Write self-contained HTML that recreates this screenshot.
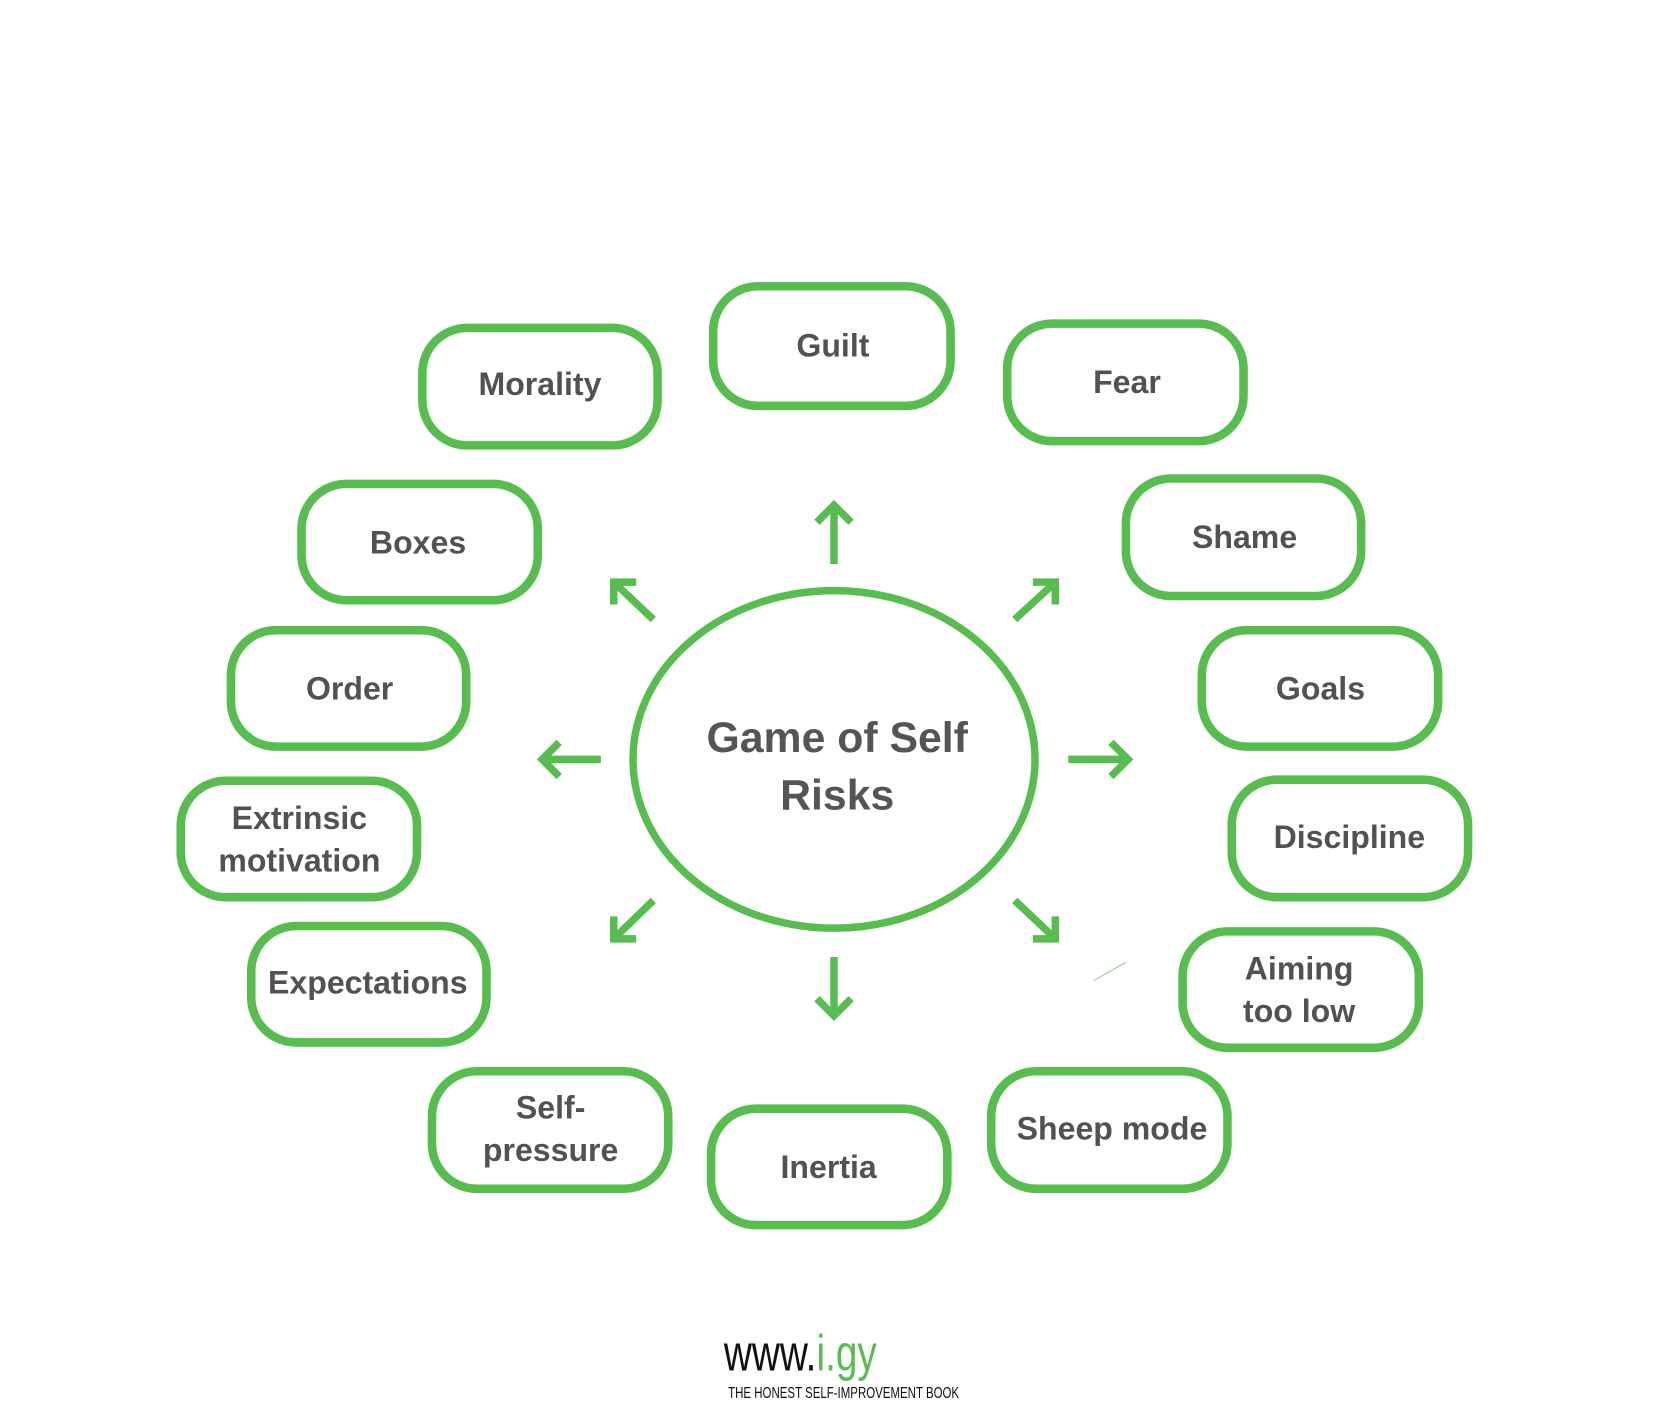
<!DOCTYPE html>
<html><head><meta charset="utf-8"><style>
html,body{margin:0;padding:0;background:#fff;width:1668px;height:1412px;overflow:hidden;}
svg{display:block;}
.b{fill:none;stroke:#58bd4f;stroke-width:8;}
.t{font-family:"Liberation Sans",sans-serif;font-weight:bold;font-size:30px;fill:#525252;text-anchor:middle;}
.a{fill:none;stroke:#58bd4f;stroke-width:7;}
</style></head><body>
<svg width="1668" height="1412" viewBox="3 2 1560 1322" preserveAspectRatio="none" xmlns="http://www.w3.org/2000/svg">
<rect x="3" y="2" width="1560" height="1322" fill="#fff"/>
<rect class="b" x="398" y="309" width="220" height="110" rx="42"/>
<text class="t" x="508" y="372">Morality</text>
<rect class="b" x="670" y="270" width="222" height="112" rx="42"/>
<text class="t" x="782" y="336">Guilt</text>
<rect class="b" x="945" y="305" width="221" height="110" rx="42"/>
<text class="t" x="1057" y="370">Fear</text>
<rect class="b" x="1056" y="450" width="220" height="110" rx="42"/>
<text class="t" x="1167" y="515">Shame</text>
<rect class="b" x="285" y="455" width="221" height="109" rx="42"/>
<text class="t" x="394" y="520">Boxes</text>
<rect class="b" x="1127" y="592" width="221" height="109" rx="42"/>
<text class="t" x="1238" y="657">Goals</text>
<rect class="b" x="219" y="592" width="220" height="109" rx="42"/>
<text class="t" x="330" y="657">Order</text>
<rect class="b" x="1155" y="732" width="221" height="110" rx="42"/>
<text class="t" x="1265" y="796">Discipline</text>
<rect class="b" x="172" y="733" width="221" height="109" rx="42"/>
<text class="t" x="283" y="778">Extrinsic</text>
<text class="t" x="283" y="818">motivation</text>
<rect class="b" x="238" y="869" width="220" height="109" rx="42"/>
<text class="t" x="347" y="932">Expectations</text>
<rect class="b" x="1109" y="874" width="221" height="109" rx="42"/>
<text class="t" x="1218" y="919">Aiming</text>
<text class="t" x="1218" y="959">too low</text>
<rect class="b" x="407" y="1005" width="221" height="110" rx="42"/>
<text class="t" x="518" y="1049">Self-</text>
<text class="t" x="518" y="1089">pressure</text>
<rect class="b" x="668" y="1040" width="221" height="109" rx="42"/>
<text class="t" x="778" y="1105">Inertia</text>
<rect class="b" x="930" y="1005" width="221" height="110" rx="42"/>
<text class="t" x="1043" y="1069">Sheep mode</text>
<ellipse cx="783" cy="713" rx="188" ry="158" fill="none" stroke="#58bd4f" stroke-width="7"/>
<text class="t" x="786" y="706" style="font-size:40px;fill:#555">Game of Self</text>
<text class="t" x="786" y="760" style="font-size:40px;fill:#555">Risks</text>
<line class="a" x1="783" y1="530" x2="783" y2="478"/><polyline class="a" points="767,491 783,475 799,491"/>
<line class="a" x1="783" y1="898" x2="783" y2="950"/><polyline class="a" points="767,937 783,953 799,937"/>
<line class="a" x1="565" y1="713" x2="513" y2="713"/><polyline class="a" points="526,697 510,713 526,729"/>
<line class="a" x1="1002" y1="713" x2="1055" y2="713"/><polyline class="a" points="1042,697 1058,713 1042,729"/>
<line class="a" x1="614" y1="582" x2="578" y2="548"/><polyline class="a" points="577,568 577,547 598,547"/>
<line class="a" x1="952" y1="582" x2="989" y2="548"/><polyline class="a" points="969,547 990,547 990,568"/>
<line class="a" x1="614" y1="845" x2="578" y2="880"/><polyline class="a" points="577,860 577,881 598,881"/>
<line class="a" x1="952" y1="845" x2="989" y2="880"/><polyline class="a" points="969,881 990,881 990,860"/>
<line x1="1026" y1="920" x2="1056" y2="903" stroke="#9bd494" stroke-width="1.2"/>
<text x="680" y="1285" textLength="143" lengthAdjust="spacingAndGlyphs" style="font-family:'Liberation Sans Narrow','Liberation Sans',sans-serif;font-size:48px;fill:#111">www.<tspan fill="#58bd4f">i.gy</tspan></text>
<text x="684" y="1311" textLength="216" lengthAdjust="spacingAndGlyphs" style="font-family:'Liberation Sans Narrow','Liberation Sans',sans-serif;font-size:15px;fill:#111">THE HONEST SELF-IMPROVEMENT BOOK</text>
</svg>
</body></html>
